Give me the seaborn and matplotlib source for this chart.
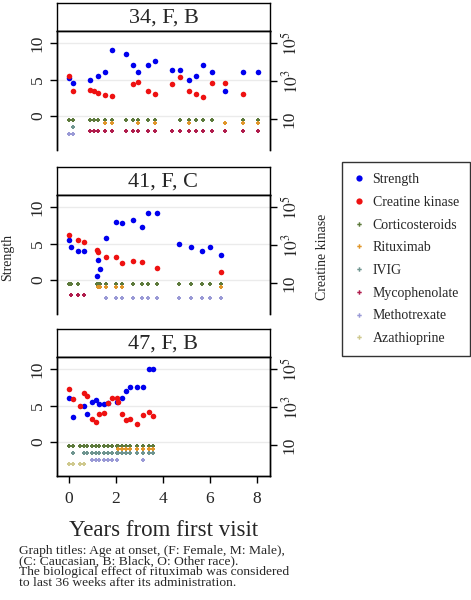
import numpy as np
import pandas as pd
import seaborn as sns
import matplotlib.pyplot as plt
from matplotlib.lines import Line2D

#### data (years from first visit)
titles = ["34, F, B", "41, F, C", "47, F, B"]

p1_str_t = [0, 0.18, 0.89, 1.25, 1.53, 1.83, 2.43, 2.74, 2.94, 3.38, 3.67, 4.37, 4.72, 5.12, 5.39, 5.69, 6.1, 6.62, 7.4, 8.06]
p1_str = [5.25, 4.5, 5.0, 5.5, 6.0, 9.0, 8.5, 7.0, 6.0, 7.0, 7.5, 6.25, 6.25, 5.0, 5.5, 7.0, 6.0, 3.5, 6.0, 6.0]
p1_ck_t = [0, 0.18, 0.89, 1.08, 1.25, 1.53, 1.83, 2.74, 2.94, 3.38, 3.67, 4.37, 4.72, 5.12, 5.39, 5.69, 6.1, 6.62, 7.4]
p1_ck = [1800, 290, 360, 310, 250, 190, 170, 720, 910, 295, 200, 690, 1700, 310, 200, 150, 850, 780, 225]
p1_cort = [0, 0.18, 0.89, 1.08, 1.25, 1.53, 1.83, 2.43, 2.74, 2.94, 3.38, 3.67, 4.72, 5.12, 5.39, 5.69, 6.1, 7.4, 8.06]
p1_ritux = [1.53, 1.83, 2.94, 3.67, 5.12, 6.62, 7.4, 8.06]
p1_ivig = [0.18]
p1_myco = [0.89, 1.08, 1.25, 1.53, 1.83, 2.43, 2.74, 2.94, 3.38, 3.67, 4.37, 4.72, 5.12, 5.39, 5.69, 6.1, 6.62, 7.4, 8.06]
p1_mtx = [0, 0.18]
p1_aza = []

p2_str_t = [0, 0.07, 0.37, 0.62, 1.18, 1.25, 1.32, 1.56, 2.0, 2.24, 2.74, 3.12, 3.38, 3.76, 4.7, 5.19, 5.65, 6.0, 6.47]
p2_str = [5.5, 4.5, 4.0, 4.0, 0.5, 2.75, 1.5, 5.75, 8.0, 7.75, 8.25, 7.25, 9.25, 9.25, 5.0, 4.5, 4.0, 4.5, 3.5]
p2_ck_t = [0, 0.37, 0.62, 1.18, 1.25, 1.56, 2.0, 2.24, 2.74, 3.12, 3.76, 6.47]
p2_ck = [3500, 1800, 1500, 560, 450, 250, 240, 118, 145, 138, 65, 39]
p2_cort = [0, 0.07, 0.37, 1.18, 1.25, 1.32, 1.56, 2.0, 2.24, 2.74, 3.12, 3.38, 3.76, 4.7, 5.19, 5.65, 6.0, 6.47]
p2_ritux = [1.25, 1.32, 1.56, 2.0, 2.24, 6.47]
p2_ivig = []
p2_myco = [0.07, 0.37, 0.62]
p2_mtx = [1.56, 2.0, 2.24, 2.74, 3.12, 3.38, 3.76, 4.7, 5.19, 5.65, 6.0, 6.47]
p2_aza = []

p3_str_t = [0, 0.18, 0.62, 0.77, 0.97, 1.15, 1.28, 1.49, 1.65, 2.03, 2.27, 2.43, 2.6, 2.88, 3.16, 3.42, 3.56]
p3_str = [6.0, 3.5, 5.0, 3.8, 5.5, 5.75, 5.25, 5.25, 5.3, 5.5, 6.0, 7.0, 7.5, 7.5, 7.5, 10.0, 10.0]
p3_ck_t = [0, 0.18, 0.47, 0.62, 0.77, 0.97, 1.15, 1.28, 1.49, 1.65, 1.84, 2.03, 2.1, 2.27, 2.43, 2.6, 2.88, 3.16, 3.42, 3.56]
p3_ck = [8900, 2750, 1170, 5600, 4100, 250, 162, 450, 500, 1700, 3200, 3200, 1900, 430, 210, 250, 138, 380, 590, 360]
p3_cort = [0, 0.18, 0.47, 0.62, 0.77, 0.97, 1.15, 1.28, 1.49, 1.65, 1.84, 2.03, 2.1, 2.27, 2.43, 2.6, 2.88, 3.16, 3.42, 3.56]
p3_ritux = [2.1, 2.27, 2.43, 2.6, 2.88, 3.16, 3.42, 3.56]
p3_ivig = [0.18, 0.62, 0.77, 0.97, 1.15, 1.28, 1.49, 1.65, 1.84, 2.03, 2.1, 2.27, 2.43, 2.6, 2.88, 3.16, 3.42, 3.56]
p3_myco = []
p3_mtx = [0.97, 1.15, 1.28, 1.49, 1.65, 1.84, 2.03, 3.16]
p3_aza = [0, 0.18, 0.47, 0.62]

treat_names = ["Corticosteroids", "Rituximab", "IVIG", "Mycophenolate", "Methotrexate", "Azathioprine"]
treat_rows = [-0.5, -1.0, -1.5, -2.0, -2.5, -3.0]
treat_colors = ["#5d7a3c", "#e0962a", "#6f9590", "#b01c4c", "#9a9ad6", "#cfc98e"]
str_color = "#0000ee"
ck_color = "#ee1111"

caption = ["Graph titles: Age at onset, (F: Female, M: Male),",
           "(C: Caucasian, B: Black, O: Other race).",
           "The biological effect of rituximab was considered",
           "to last 36 weeks after its administration."]

sns.set_style("white")
plt.rcParams['font.family'] = ['Liberation Serif', 'DejaVu Serif']
plt.rcParams['mathtext.fontset'] = 'stix'

W, H = 471, 600
fig = plt.figure(figsize=(W / 100, H / 100), dpi=100)


def box(x0, y0, x1, y1):
	# pixel box (from top-left) to figure fraction
	return [x0 / W, 1 - y1 / H, (x1 - x0) / W, (y1 - y0) / H]


def panel(top, title, str_t, strv, ck_t, ckv, treats, last):
	strip = fig.add_axes(box(57, top, 270, top + 28))
	strip.set_xticks([])
	strip.set_yticks([])
	for s in strip.spines.values():
		s.set_color("black")
		s.set_linewidth(1)
	strip.text(0.5, 0.45, title, ha="center", va="center", fontsize=16, transform=strip.transAxes)

	ax = fig.add_axes(box(57, top + 28, 270, top + 147))
	ax2 = ax.twinx()
	ax.set_xlim(-0.51, 8.55)
	ax.set_ylim(-4.65, 11.65)
	for y in [0, 5, 10]:
		ax.axhline(y, color="#ebebeb", lw=1, zorder=0)

	for t, row, col in zip(treats, treat_rows, treat_colors):
		if len(t) == 0:
			continue
		df = pd.DataFrame({"t": t, "y": [row] * len(t)})
		sns.scatterplot(data=df, x="t", y="y", ax=ax, color=col, marker="P", s=9, linewidth=0, legend=False)

	df = pd.DataFrame({"t": str_t, "v": strv})
	sns.scatterplot(data=df, x="t", y="v", ax=ax, color=str_color, s=16, linewidth=0, legend=False)

	ax2.set_yscale("log")
	df = pd.DataFrame({"t": ck_t, "v": ckv})
	sns.scatterplot(data=df, x="t", y="v", ax=ax2, color=ck_color, s=16, linewidth=0, legend=False)
	ax2.set_ylim(10 ** -0.62, 10 ** 5.64)

	ax.set_yticks([0, 5, 10])
	ax.set_yticklabels(["0", "5", "10"], rotation=90, va="center")
	ax2.set_yticks([10, 1e3, 1e5])
	ax2.set_yticklabels(["10", "$10^3$", "$10^5$"], rotation=90, va="center")
	ax2.minorticks_off()
	ax.tick_params(axis="y", left=True, length=5, width=1, pad=3, labelsize=12.5, color="black")
	ax2.tick_params(axis="y", right=True, length=5, width=1, pad=3, labelsize=12.5, color="black")
	ax.set_ylabel("")
	ax2.set_ylabel("")
	for a in (ax, ax2):
		for s in a.spines.values():
			s.set_color("black")
			s.set_linewidth(1)
	ax.set_xlim(-0.51, 8.55)
	if last:
		ax.set_xticks([0, 2, 4, 6, 8])
		ax.set_xticklabels(["0", "2", "4", "6", "8"])
		ax.tick_params(axis="x", bottom=True, labelbottom=True, length=5, width=1, pad=6,
			labelsize=12.5, color="black")
		ax2.tick_params(axis="x", bottom=False, labelbottom=False)
	else:
		ax.tick_params(axis="x", bottom=False, labelbottom=False)
		ax2.tick_params(axis="x", bottom=False, labelbottom=False)
		ax.spines["bottom"].set_visible(False)
		ax2.spines["bottom"].set_visible(False)
	ax.set_xlabel("")
	ax2.set_xlabel("")


panel(3, titles[0], p1_str_t, p1_str, p1_ck_t, p1_ck,
	[p1_cort, p1_ritux, p1_ivig, p1_myco, p1_mtx, p1_aza], False)
panel(167, titles[1], p2_str_t, p2_str, p2_ck_t, p2_ck,
	[p2_cort, p2_ritux, p2_ivig, p2_myco, p2_mtx, p2_aza], False)
panel(329, titles[2], p3_str_t, p3_str, p3_ck_t, p3_ck,
	[p3_cort, p3_ritux, p3_ivig, p3_myco, p3_mtx, p3_aza], True)

fig.text(8 / W, 1 - 257 / H, "Strength", rotation=90, ha="center", va="center", fontsize=10)
fig.text(323 / W, 1 - 257 / H, "Creatine kinase", rotation=90, ha="center", va="center", fontsize=10)
fig.text(163.5 / W, 1 - 530 / H, "Years from first visit", ha="center", va="center", fontsize=16.5)
fig.text(19 / W, 1 - 545 / H, "\n".join(caption), ha="left", va="top", fontsize=9.7, linespacing=0.86)

handles = [Line2D([], [], ls="none", marker="o", color=str_color, markersize=4.5, markeredgewidth=0),
	Line2D([], [], ls="none", marker="o", color=ck_color, markersize=4.5, markeredgewidth=0)]
for col in treat_colors:
	handles.append(Line2D([], [], ls="none", marker="P", color=col, markersize=3.2, markeredgewidth=0))
labels = ["Strength", "Creatine kinase"] + treat_names
leg = fig.legend(handles, labels, loc="upper left", bbox_to_anchor=(342 / W, 1 - 162 / H),
	frameon=True, fancybox=False, edgecolor="black", fontsize=10, borderaxespad=0,
	handlelength=0.8, handletextpad=0.6, labelspacing=0.7, borderpad=0.8)
leg.get_frame().set_linewidth(1)

fig.savefig("out.png", dpi=100)
